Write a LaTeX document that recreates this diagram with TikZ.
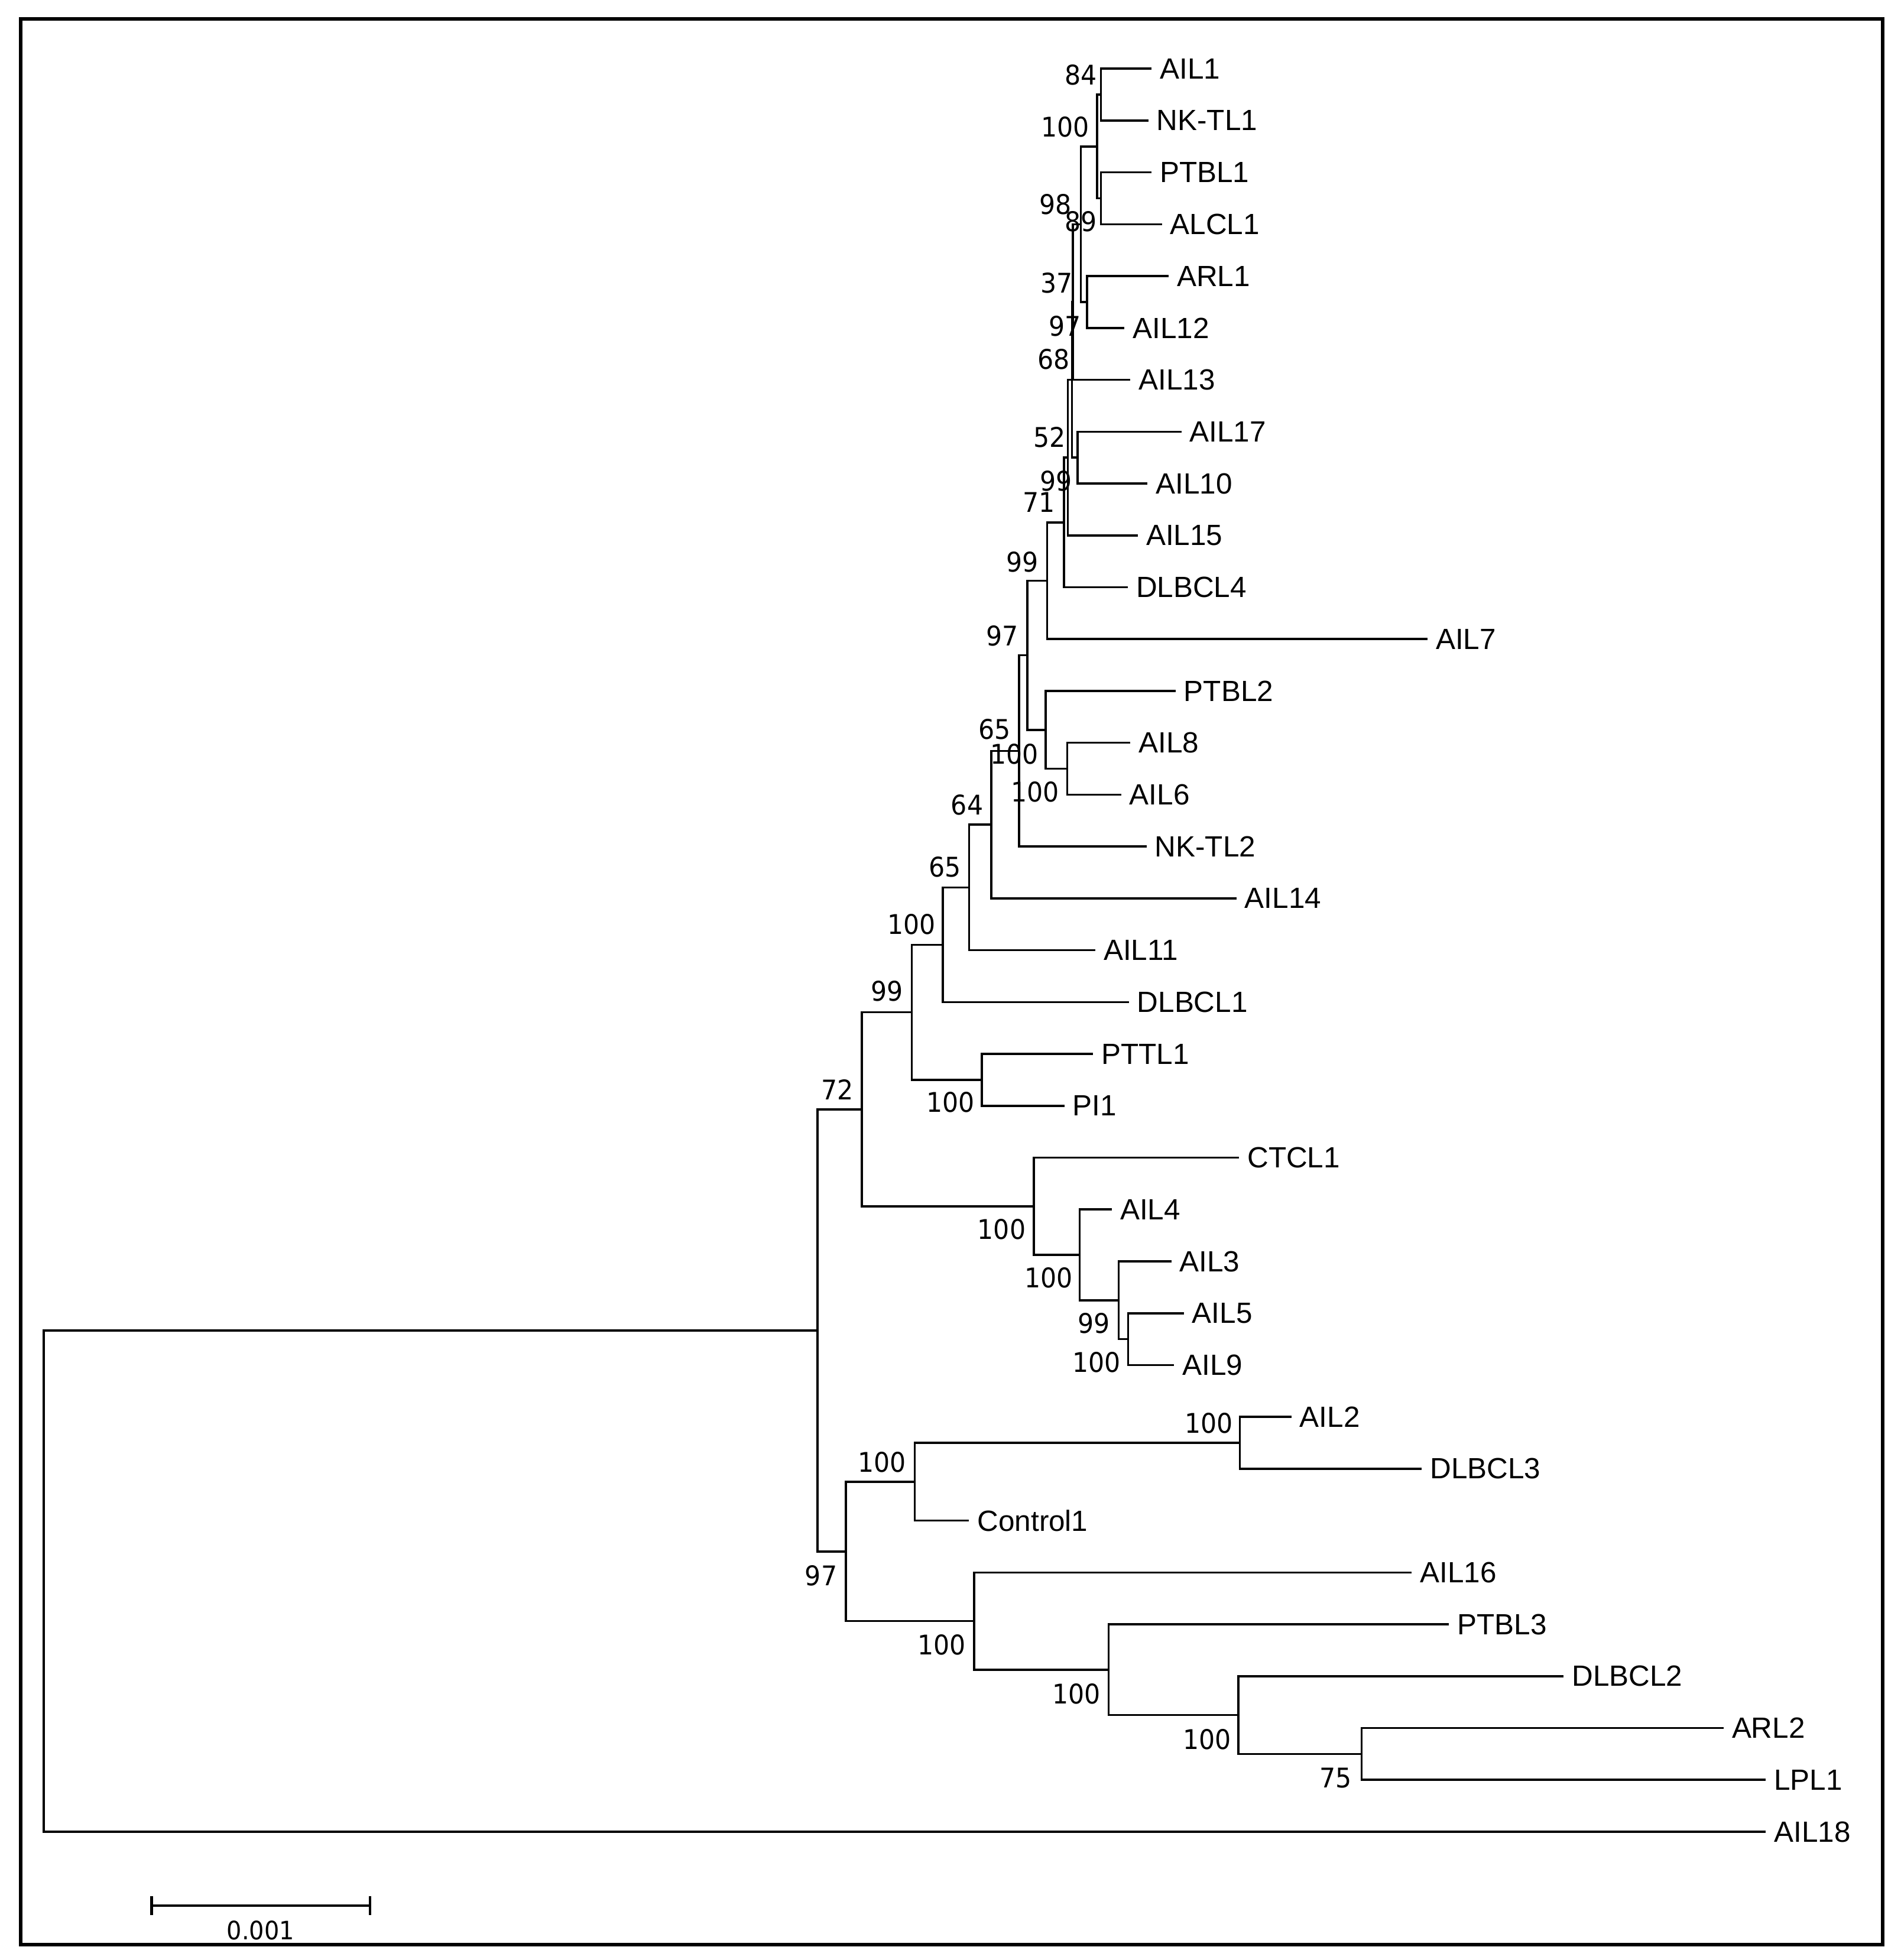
\documentclass[tikz,border=0pt]{standalone}
\usepackage{fontspec}
\setmainfont{Liberation Sans}
\newfontfamily\bootfont[FakeStretch=0.93]{DejaVu Sans}
\usepackage{tikz}
\usetikzlibrary{calc}
\tikzstyle{branch}=[line width=1.7pt,black,line join=miter]
\tikzstyle{frame}=[line width=2.85pt,black]
\tikzstyle{bartick}=[line width=2.2pt,black]
\tikzstyle{leaf}=[anchor=west,inner sep=0,xshift=6.5pt,
  font=\fontsize{23.4pt}{28pt}\selectfont]
\tikzstyle{boot}=[inner sep=0,font=\bootfont\fontsize{21.7pt}{26pt}\selectfont]
\tikzstyle{scalelbl}=[inner sep=0,font=\bootfont\fontsize{20.3pt}{24pt}\selectfont]
% clade: name, x, upper child, lower child
\newcommand{\clade}[4]{%
  \path let \p1=(#3), \p2=(#4) in (#2pt,{(\y1+\y2)/2}) coordinate (#1);
  \draw[branch] (#3) -| (#1) |- (#4);
}
\begin{document}
\begin{tikzpicture}[x=1pt,y=-1pt]
  \def\dy{41.52}
  \useasboundingbox (0,0) rectangle (1522,1569.4);

  % FRAME
  \draw[frame] (16.4,15) rectangle (1507.3,1557);

  % LEAVES
  \foreach \name/\txt/\tip [count=\i] in {
      AIL1/AIL1/922.1, NKTL1/NK-TL1/919.4, PTBL1/PTBL1/922.0,
      ALCL1/ALCL1/930.3, ARL1/ARL1/935.7, AIL12/AIL12/900.4,
      AIL13/AIL13/905.1, AIL17/AIL17/945.9, AIL10/AIL10/918.8,
      AIL15/AIL15/911.0, DLBCL4/DLBCL4/903.0, AIL7/AIL7/1143.0,
      PTBL2/PTBL2/941.2, AIL8/AIL8/905.0, AIL6/AIL6/897.7,
      NKTL2/NK-TL2/918.0, AIL14/AIL14/990.0, AIL11/AIL11/877.0,
      DLBCL1/DLBCL1/903.8, PTTL1/PTTL1/875.2, PI1/PI1/852.2,
      CTCL1/CTCL1/992.1, AIL4/AIL4/890.2, AIL3/AIL3/937.8,
      AIL5/AIL5/947.8, AIL9/AIL9/940.0, AIL2/AIL2/1034.0,
      DLBCL3/DLBCL3/1138.4, Control1/Control1/775.9, AIL16/AIL16/1130.4,
      PTBL3/PTBL3/1160.2, DLBCL2/DLBCL2/1252.0, ARL2/ARL2/1380.0,
      LPL1/LPL1/1413.8, AIL18/AIL18/1413.8}{
    \coordinate (\name) at (\tip,{55+(\i-1)*\dy});
    \node[leaf] (t\name) at (\name) {\txt};
  }

  % CLADES
  \clade{Na}{881.4}{AIL1}{NKTL1}
  \clade{Nb}{881.4}{PTBL1}{ALCL1}
  \clade{Nc}{878.5}{Na}{Nb}
  \clade{Nd}{870.4}{ARL1}{AIL12}
  \clade{Ne}{865.3}{Nc}{Nd}
  \clade{Nv}{859.0}{Ne}{AIL13}
  \clade{Nf}{862.9}{AIL17}{AIL10}
  \clade{Nu}{858.2}{Nv}{Nf}
  \clade{Nq}{855.0}{Nu}{AIL15}
  \clade{Nr}{852.0}{Nq}{DLBCL4}
  \clade{Ns}{838.5}{Nr}{AIL7}
  \clade{Nw}{854.5}{AIL8}{AIL6}
  \clade{Nx}{837.2}{PTBL2}{Nw}
  \clade{Ny}{822.5}{Ns}{Nx}
  \clade{Nz}{816.0}{Ny}{NKTL2}
  \clade{Naa}{793.8}{Nz}{AIL14}
  \clade{Nbb}{776.0}{Naa}{AIL11}
  \clade{Ncc}{754.8}{Nbb}{DLBCL1}
  \clade{Nee}{786.1}{PTTL1}{PI1}
  \clade{Ndd}{730.0}{Ncc}{Nee}
  \clade{Nkk}{903.3}{AIL5}{AIL9}
  \clade{Njj}{895.6}{AIL3}{Nkk}
  \clade{Nii}{864.4}{AIL4}{Njj}
  \clade{Ngg}{827.7}{CTCL1}{Nii}
  \clade{Nff}{690.0}{Ndd}{Ngg}
  \clade{Noo}{992.7}{AIL2}{DLBCL3}
  \clade{Nmm}{732.3}{Noo}{Control1}
  \clade{Nrr}{1090.2}{ARL2}{LPL1}
  \clade{Nqq}{991.6}{DLBCL2}{Nrr}
  \clade{Npp}{887.7}{PTBL3}{Nqq}
  \clade{Nnn}{779.9}{AIL16}{Npp}
  \clade{Nll}{677.2}{Nmm}{Nnn}
  \clade{Nhh}{654.5}{Nff}{Nll}
  \clade{Nroot}{35.0}{Nhh}{AIL18}

  % BOOTSTRAP VALUES
  \foreach \val/\bx/\by [count=\k] in {
      84/865.3/60.0, 100/852.7/101.8, 98/845.2/163.7, 89/865.3/177.3,
      37/846.0/226.4, 97/852.6/261.1, 68/843.6/287.7, 52/840.5/350.0,
      99/845.4/385.0, 71/831.7/402.1, 99/818.4/449.8, 97/802.4/509.1,
      65/796.4/584.0, 100/812.0/603.8, 100/828.6/634.1, 64/774.3/644.4,
      65/756.4/694.1, 100/729.8/740.0, 99/710.2/793.5, 72/670.6/872.3,
      100/760.9/882.8, 100/802.0/984.2, 100/839.7/1023.3, 99/876.0/1059.8,
      100/877.8/1090.9, 100/968.0/1139.4, 100/706.0/1170.7, 97/657.4/1261.8,
      100/754.0/1316.9, 100/862.0/1356.2, 100/966.4/1392.8, 75/1069.5/1423.6}{
    \node[boot] (bs\k) at (\bx,\by) {\val};
  }

  % SCALE BAR
  \coordinate (sbL) at (121.5,1525.9);
  \coordinate (sbR) at (296.3,1525.9);
  \draw[branch] (sbL) -- (sbR);
  \draw[bartick] (sbL) ++(0,-7.4) -- ++(0,14.8);
  \draw[bartick] (sbR) ++(0,-7.4) -- ++(0,14.8);
  \node[scalelbl] (sbT) at (208.6,1545.6) {0.001};

\end{tikzpicture}
\end{document}
